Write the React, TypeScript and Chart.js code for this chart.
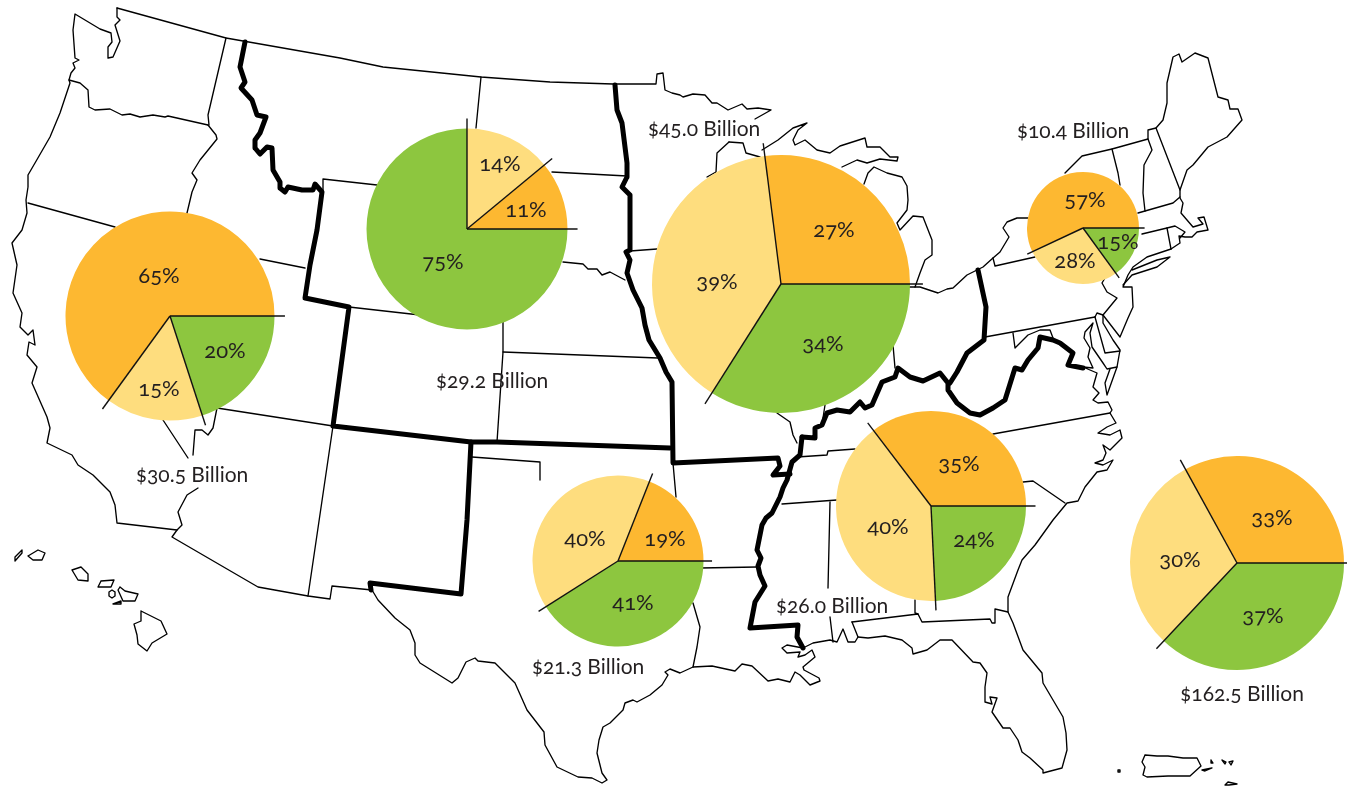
import React, { useEffect, useRef } from "react";
import { Chart, registerables } from "chart.js";

Chart.register(...registerables);

type P = [number, number];

// ---------- pie values (percent) ----------
const sliceNames = ["green", "yellow", "orange"];
const westShares = [20, 15, 65];
const northwestShares = [75, 14, 11];
const midwestShares = [34, 39, 27];
const northeastShares = [15, 28, 57];
const southwestShares = [41, 40, 19];
const southeastShares = [24, 40, 35];
const midAtlanticShares = [37, 30, 33];

// ---------- totals ----------
const totalLabels = [
  "$30.5 Billion",
  "$29.2 Billion",
  "$45.0 Billion",
  "$10.4 Billion",
  "$21.3 Billion",
  "$26.0 Billion",
  "$162.5 Billion",
];

// ---------- map outlines, in map units ----------
const thickBorderWest: P[] = [[245,42],[240,67],[245,82],[241,88],[252,100],[257,115],[266,117],[260,133],[255,140],[255,148],[260,154],[267,147],[272,148],[273,170],[280,182],[280,188],[285,192],[288,187],[302,190],[313,190],[315,184],[322,192],[317,230],[310,265],[305,298],[349,307],[333,426],[471,442],[497,442],[670,448]];
const thickBorderNM: P[] = [[471,442],[467,520],[461,594],[370,583],[371,590]];
const thickBorderNorth: P[] = [[615,85],[617,110],[622,123],[627,163],[627,177],[622,187],[630,195],[630,250],[626,252],[630,260],[627,273],[633,290],[642,308],[645,325],[649,340],[660,358],[666,372],[672,382],[673,463],[778,458],[780,466],[773,475],[790,474]];
const thickBorderRiver: P[] = [[802,437],[800,455],[792,462],[787,480],[783,488],[780,497],[772,513],[766,518],[762,525],[757,550],[761,558],[758,566],[760,575],[765,586],[755,602],[750,628],[798,625],[797,637],[803,648]];
const thickBorderKentucky: P[] = [[802,437],[815,438],[815,428],[822,425],[827,413],[837,410],[850,412],[860,402],[865,408],[872,405],[882,382],[895,377],[898,368],[910,377],[923,381],[940,373],[948,383],[948,390],[957,403],[970,413],[980,415],[993,408],[1005,400],[1015,368],[1022,370],[1028,360],[1038,348],[1040,337],[1053,340],[1060,343],[1073,353],[1068,365],[1083,368]];
const thickBorderOhio: P[] = [[978,270],[986,307],[984,340],[967,353],[957,372],[950,383]];

const northBorder: P[] = [[117,8],[226,38],[340,58],[383,67],[481,77],[550,82],[613,84],[656,84],[657,74],[663,73],[665,90],[672,93],[680,95],[683,97],[693,94],[705,95],[712,103],[717,103],[728,110],[742,104],[747,109],[758,108],[771,110],[755,119]];
const washingtonCoast: P[] = [[117,8],[117,17],[120,20],[115,25],[120,41],[113,57],[108,58],[108,47],[112,42],[111,33],[100,29],[75,14],[73,30],[75,58],[79,60],[73,63],[75,68],[71,73],[69,80],[70,83],[60,113],[50,137],[35,163],[28,175],[28,187],[26,200],[27,213],[22,230],[12,243],[17,265],[13,293],[22,313],[20,327],[28,335],[33,330],[35,345],[29,342],[27,355],[37,367],[32,383],[47,417],[50,428],[47,443],[72,455],[78,465],[93,475],[110,492],[115,505],[117,523],[177,530],[172,537],[258,587],[308,596],[330,599],[332,586],[372,590],[378,600],[395,618],[410,630],[415,643],[415,655],[420,663],[452,683],[458,678],[466,662],[475,658],[478,661],[495,663],[515,683],[527,710],[544,732],[545,745],[557,767],[578,777],[592,778],[602,783],[607,780],[602,773],[597,753],[599,740],[603,727],[610,723],[623,710],[625,703],[633,700],[637,702],[650,695],[662,685],[668,675],[665,672],[670,669],[680,673],[693,667],[712,666],[735,671],[742,664],[752,666],[768,681],[778,679],[790,682],[795,672],[800,675],[810,685],[820,681],[819,678],[804,670],[803,667],[815,657],[812,650],[805,655],[798,657],[800,652],[787,653],[782,648],[787,645],[803,648],[813,643],[830,640],[837,642],[843,629],[848,642],[855,642],[858,637],[852,622]];
const gulfCoastFlorida: P[] = [[858,637],[868,638],[885,636],[902,640],[912,648],[913,654],[927,650],[940,640],[952,640],[973,662],[980,663],[987,673],[985,687],[985,702],[992,704],[990,697],[997,698],[992,712],[1003,728],[1010,728],[1018,740],[1022,752],[1030,758],[1043,770],[1043,773],[1062,768],[1067,750],[1066,733],[1063,717],[1043,683],[1042,673],[1023,650],[1013,623],[1008,612],[1008,597],[1018,570],[1022,560],[1035,545],[1053,520],[1067,503],[1078,501],[1085,487],[1097,472],[1107,470],[1113,460],[1103,465],[1095,463],[1103,460],[1106,453],[1103,445],[1110,450],[1122,438],[1120,430],[1110,435],[1098,433],[1107,427],[1116,423],[1110,413],[1112,410],[1108,402],[1098,403],[1093,400],[1099,393],[1093,387],[1097,373],[1083,367],[1093,368],[1088,357],[1090,348],[1084,338],[1085,332],[1093,323],[1090,333],[1092,347],[1103,363],[1107,369],[1117,367],[1120,350],[1113,340],[1103,323],[1103,315],[1117,298],[1107,292],[1102,283],[1105,278]];
const delmarva: P[] = [[1117,367],[1107,395],[1105,383],[1110,369]];
const delaware: P[] = [[1095,317],[1097,313],[1103,315]];
const delawareWest: P[] = [[1095,317],[1105,353],[1120,351]];
const jersey: P[] = [[1103,315],[1120,337],[1128,318],[1133,307],[1132,287],[1123,287],[1128,275],[1133,267],[1147,257],[1171,249]];
const longIsland: P[] = [[1123,285],[1132,275],[1157,267],[1170,257],[1157,260],[1132,270]];
const newEngland: P[] = [[1171,249],[1180,243],[1179,236],[1185,237],[1192,237],[1197,232],[1208,230],[1204,217],[1198,218],[1203,224],[1193,227],[1181,213],[1183,203],[1180,198],[1180,190],[1187,170],[1193,165],[1208,147],[1227,137],[1242,120],[1238,109],[1230,109],[1228,100],[1218,97],[1208,58],[1195,53],[1182,62],[1179,54],[1173,57],[1167,83],[1167,103],[1163,120],[1156,128],[1148,130],[1148,139],[1112,149],[1082,156],[1065,173]];
const vermont: P[] = [[1148,139],[1152,150],[1144,165],[1143,193],[1145,211]];
const newHampshire: P[] = [[1156,128],[1180,190]];
const massNorth: P[] = [[1138,213],[1173,203],[1180,197]];
const vermontWest: P[] = [[1112,149],[1118,173],[1120,185]];
const ctNorth: P[] = [[1142,234],[1167,228],[1175,226],[1185,232],[1180,238]];
const ctRi: P[] = [[1167,228],[1171,249]];
const lakeSuperiorSouth: P[] = [[729,142],[717,153],[716,172],[707,177]];
const wisconsinNorth: P[] = [[729,142],[743,143],[746,153],[760,157]];
const upperMichigan: P[] = [[762,150],[778,140],[793,128],[807,123],[798,130],[793,140],[795,145],[805,140],[817,150],[830,153],[840,146],[865,138],[867,147],[880,147],[890,157],[898,157],[897,161],[880,159],[867,163],[857,160],[842,167]];
const lowerMichigan: P[] = [[864,184],[868,173],[874,167],[887,173],[902,177],[907,186],[908,200],[907,210],[897,223],[900,230],[913,216],[923,217],[932,240],[932,255],[925,260],[920,273],[915,287]];
const lakeErie: P[] = [[905,287],[920,287],[938,293],[947,289],[953,288],[967,275],[983,267],[993,258],[1000,252],[1009,237],[1003,228],[1007,222],[1017,218],[1028,218]];
const paNorth: P[] = [[993,258],[995,266],[1035,257]];
const paSouth: P[] = [[985,337],[1095,317]];
const maryland: P[] = [[1013,333],[1015,348],[1028,335],[1040,330],[1050,330],[1053,338]];
const vaNc: P[] = [[993,434],[1110,413]];
const ncSc: P[] = [[1023,482],[1033,481],[1065,503]];
const orWa: P[] = [[69,80],[80,83],[88,90],[89,107],[95,110],[110,109],[122,115],[130,114],[140,117],[153,115],[165,117],[168,116],[208,125]];
const idWa: P[] = [[226,38],[208,115],[209,125]];
const orId: P[] = [[208,125],[216,135],[217,139],[200,160],[192,173],[197,180],[192,192],[187,213],[184,226]];
const caOr: P[] = [[28,203],[115,227]];
const idUt: P[] = [[260,259],[305,268]];
const caNv: P[] = [[163,420],[188,458]];
const nvRiver: P[] = [[193,455],[195,430],[202,430],[208,435],[213,428],[217,408]];
const caAz: P[] = [[198,488],[187,495],[178,512],[182,525],[177,530]];
const utAz: P[] = [[217,408],[333,426]];
const azNm: P[] = [[333,426],[308,596]];
const mtWy: P[] = [[323,192],[323,179],[377,185]];
const mtNd: P[] = [[481,77],[476,128]];
const wyCo: P[] = [[349,307],[420,315]];
const ndSd: P[] = [[552,172],[627,176]];
const neSd: P[] = [[563,262],[583,264],[588,269],[597,269],[602,275],[610,272],[625,280]];
const mnIa: P[] = [[630,251],[657,249]];
const neCo: P[] = [[503,320],[503,352],[497,442]];
const neKs: P[] = [[503,352],[658,358]];
const okPanhandle: P[] = [[472,457],[540,462],[540,480]];
const okAr: P[] = [[673,463],[676,497]];
const arLa: P[] = [[700,568],[757,567]];
const laTx: P[] = [[693,603],[700,627],[697,647],[693,667]];
const moIl: P[] = [[777,413],[790,422],[793,435],[797,443]];
const ilKy: P[] = [[825,405],[823,418]];
const inOh: P[] = [[893,345],[895,368]];
const tnKy: P[] = [[797,457],[827,455],[828,451],[855,449]];
const tnMs: P[] = [[782,504],[837,500]];
const msAl: P[] = [[830,502],[828,588]];
const msAlSouth: P[] = [[830,617],[833,642]];
const alFl: P[] = [[852,622],[918,614],[922,622],[990,619],[992,623],[995,623],[995,609],[1008,612]];
const alGa: P[] = [[915,600],[915,613],[918,614]];
const kauai: P[] = [[28,556],[38,550],[45,553],[42,560],[33,560],[28,556]];
const niihau: P[] = [[15,557],[22,550],[22,553],[15,561],[15,557]];
const oahu: P[] = [[72,570],[81,567],[88,574],[88,581],[78,580],[72,570]];
const molokai: P[] = [[101,581],[114,580],[111,587],[98,587],[101,581]];
const lanai: P[] = [[109,592],[112,590],[115,592],[115,596],[112,598],[109,596],[109,592]];
const maui: P[] = [[120,587],[125,591],[138,594],[135,601],[123,601],[118,590],[120,587]];
const kahoolawe: P[] = [[113,604],[121,601],[121,604],[113,604]];
const hawaii: P[] = [[141,611],[161,621],[167,634],[152,643],[147,651],[138,644],[137,635],[134,624],[141,621],[141,611]];
const puertoRico: P[] = [[1145,755],[1157,756],[1168,756],[1183,758],[1197,758],[1201,766],[1190,776],[1168,776],[1147,777],[1143,775],[1145,767],[1142,762],[1145,755]];
const mona: P[] = [[1118,770],[1120,770],[1120,772],[1118,772],[1118,770]];
const vieques: P[] = [[1202,770],[1212,768],[1205,771],[1202,770]];
const culebra: P[] = [[1211,760],[1213,763],[1211,763],[1211,760]];
const stThomas: P[] = [[1222,760],[1226,762],[1225,764],[1222,760]];
const stJohn: P[] = [[1229,762],[1233,761],[1231,765],[1229,762]];
const stCroix: P[] = [[1225,785],[1228,782],[1237,784],[1229,785],[1225,785]];

const thickLines = [thickBorderWest, thickBorderNM, thickBorderNorth, thickBorderRiver, thickBorderKentucky, thickBorderOhio];
const thinLines = [northBorder, washingtonCoast, gulfCoastFlorida, delmarva, delaware, delawareWest, jersey, longIsland, newEngland, vermont, newHampshire, massNorth, vermontWest, ctNorth, ctRi, lakeSuperiorSouth, wisconsinNorth, upperMichigan, lowerMichigan, lakeErie, paNorth, paSouth, maryland, vaNc, ncSc, orWa, idWa, orId, caOr, idUt, caNv, nvRiver, caAz, utAz, azNm, mtWy, mtNd, wyCo, ndSd, neSd, mnIa, neCo, neKs, okPanhandle, okAr, arLa, laTx, moIl, ilKy, inOh, tnKy, tnMs, msAl, msAlSouth, alFl, alGa, kauai, niihau, oahu, molokai, lanai, maui, kahoolawe, hawaii, puertoRico, mona, vieques, culebra, stThomas, stJohn, stCroix];

// ---------- layout (separate from the data) ----------
const PAGE_W = 1347;
const PAGE_H = 786;
const COLORS = ["#8DC63F", "#FEDD7E", "#FDB831"];
const INK = "#231F20";
const FONT = "Lato, 'Open Sans', sans-serif";

const pieTable = [
  { shares: westShares, cx: 170, cy: 316, r: 104.5 },
  { shares: northwestShares, cx: 467, cy: 229, r: 100.5 },
  { shares: midwestShares, cx: 781, cy: 284, r: 129 },
  { shares: northeastShares, cx: 1083, cy: 228, r: 56 },
  { shares: southwestShares, cx: 618, cy: 561, r: 85.5 },
  { shares: southeastShares, cx: 931, cy: 506, r: 95 },
  { shares: midAtlanticShares, cx: 1237, cy: 563, r: 107 },
];

const percentPlaces: [number, number, number][] = [
  [65,159,275],[20,225,350],[15,159,388],
  [14,500,163],[11,526,209],[75,443,261],
  [27,834,229],[39,717,281],[34,823,343],
  [57,1085,199],[28,1075,260],[15,1118,241],
  [40,585,538],[19,665,538],[41,633,602],
  [35,959,463],[40,888,526],[24,974,539],
  [33,1272,517],[30,1180,559],[37,1263,615],
];
const totalPlaces: [number, number][] = [[192,473],[492,379],[704,127],[1073,129],[588,665],[832,604],[1242,692]];

const sliceRules = {
  id: "sliceRules",
  afterDatasetsDraw(chart: any) {
    const { ctx } = chart;
    ctx.save();
    ctx.strokeStyle = "#111";
    ctx.lineWidth = 1.4;
    for (const arc of chart.getDatasetMeta(0).data) {
      const { x, y, startAngle, outerRadius } = arc.getProps(["x", "y", "startAngle", "outerRadius"], true);
      const len = outerRadius * 1.1;
      ctx.beginPath();
      ctx.moveTo(x, y);
      ctx.lineTo(x + Math.cos(startAngle) * len, y + Math.sin(startAngle) * len);
      ctx.stroke();
    }
    ctx.restore();
  },
};

function MapLayer() {
  const ref = useRef<HTMLCanvasElement>(null);
  useEffect(() => {
    const toDs = (pts: P[], width: number) => ({
      data: pts.map(([x, y]) => ({ x, y })),
      showLine: true,
      pointRadius: 0,
      borderColor: "#000",
      borderWidth: width,
      borderJoinStyle: "round" as const,
      borderCapStyle: "round" as const,
      tension: 0,
      fill: false,
    });
    const chart = new Chart(ref.current!, {
      type: "scatter",
      data: { datasets: [...thinLines.map((l) => toDs(l, 1.35)), ...thickLines.map((l) => toDs(l, 5))] },
      options: {
        animation: false,
        responsive: false,
        layout: { padding: 0 },
        plugins: { legend: { display: false }, tooltip: { enabled: false } },
        scales: {
          x: { type: "linear", min: 0, max: PAGE_W, display: false },
          y: { type: "linear", min: 0, max: PAGE_H, reverse: true, display: false },
        },
      },
    });
    return () => chart.destroy();
  }, []);
  return <canvas ref={ref} width={PAGE_W} height={PAGE_H} style={{ position: "absolute", left: 0, top: 0 }} />;
}

function Pie({ shares, cx, cy, r }: { shares: number[]; cx: number; cy: number; r: number }) {
  const ref = useRef<HTMLCanvasElement>(null);
  const half = Math.ceil(r * 1.15) + 2;
  useEffect(() => {
    const chart = new Chart(ref.current!, {
      type: "pie",
      data: {
        labels: sliceNames,
        datasets: [{ data: shares, backgroundColor: COLORS, borderWidth: 0 }],
      },
      options: {
        animation: false,
        responsive: false,
        rotation: 90,
        radius: r,
        layout: { padding: 0 },
        plugins: { legend: { display: false }, tooltip: { enabled: false } },
      },
      plugins: [sliceRules],
    });
    return () => chart.destroy();
  }, []);
  return (
    <canvas
      ref={ref}
      width={half * 2}
      height={half * 2}
      style={{ position: "absolute", left: cx - half, top: cy - half }}
    />
  );
}

const labelStyle = (x: number, y: number, size: number): React.CSSProperties => ({
  position: "absolute",
  left: x,
  top: y,
  transform: "translate(-50%,-50%)",
  font: `${size}px ${FONT}`,
  fontFeatureSettings: '"onum" 1',
  fontVariantNumeric: "oldstyle-nums",
  color: INK,
  whiteSpace: "nowrap",
  lineHeight: 1,
});

export default function App() {
  useEffect(() => {
    document.body.style.margin = "0";
  }, []);
  return (
    <div style={{ position: "relative", width: PAGE_W, height: PAGE_H, overflow: "hidden", background: "#fff", margin: 0 }}>
      <MapLayer />
      {pieTable.map((p, i) => (
        <Pie key={i} {...p} />
      ))}
      {percentPlaces.map(([v, x, y], i) => (
        <span key={i} style={labelStyle(x, y, 22)}>{v}%</span>
      ))}
      {totalLabels.map((t, i) => (
        <span key={t} style={labelStyle(totalPlaces[i][0], totalPlaces[i][1], 21)}>{t}</span>
      ))}
    </div>
  );
}
